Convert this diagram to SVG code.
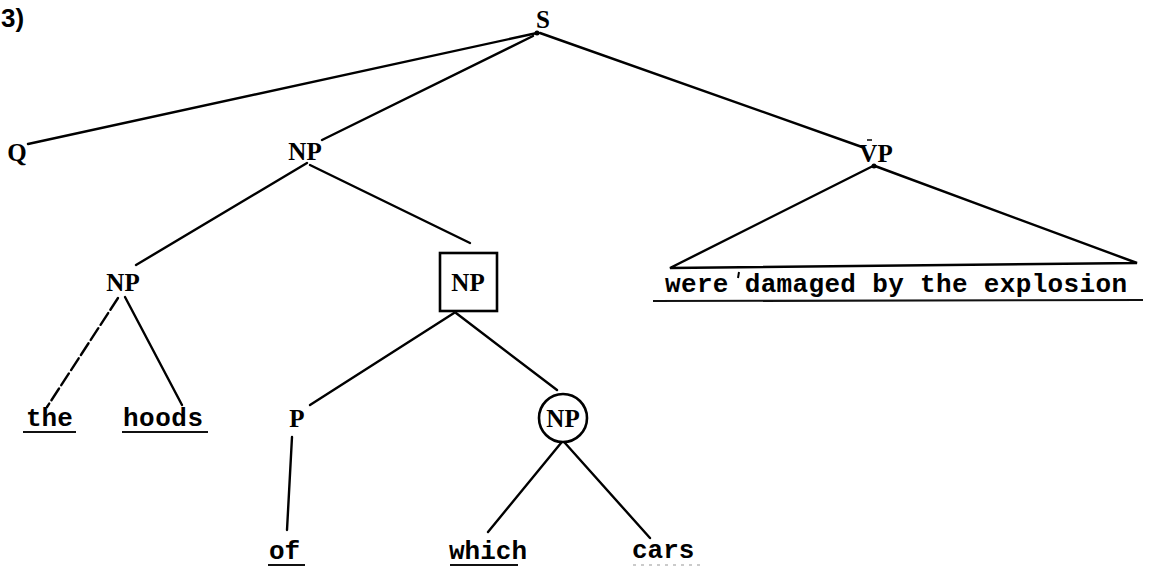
<svg xmlns="http://www.w3.org/2000/svg" width="1158" height="566" viewBox="0 0 1158 566">
<style>
.lab{font-family:"Liberation Serif",serif;font-size:25px;font-weight:bold;fill:#000;text-anchor:middle}
.word{font-family:"Liberation Mono",monospace;font-size:26px;font-weight:bold;fill:#000}
.num{font-family:"Liberation Sans",sans-serif;font-size:26px;font-weight:bold;fill:#000}
.edge{stroke:#000;stroke-width:2.4;stroke-linecap:round;fill:none}
.ul{stroke:#111;stroke-width:2.2;fill:none}
.dash{stroke-dasharray:14 4}
</style>
<rect width="1158" height="566" fill="#fff"/>
<text class="num" x="1" y="27">3)</text>
<g id="connectors">
<line class="edge" x1="537" y1="33" x2="28" y2="144"/>
<line class="edge" x1="533" y1="36" x2="322" y2="140"/>
<line class="edge" x1="540" y1="33" x2="862" y2="147"/>
<line class="edge" x1="307" y1="163" x2="136" y2="265"/>
<line class="edge" x1="310" y1="165" x2="470" y2="243"/>
<line class="edge dash" x1="118" y1="298" x2="47" y2="407"/>
<line class="edge" x1="125" y1="297" x2="182" y2="405"/>
<line class="edge" x1="454" y1="313" x2="310" y2="405"/>
<line class="edge" x1="456" y1="313" x2="557" y2="390"/>
<line class="edge" x1="292" y1="437" x2="287" y2="530"/>
<line class="edge" x1="561" y1="443" x2="488" y2="532"/>
<line class="edge" x1="565" y1="443" x2="650" y2="538"/>
<polyline class="edge" points="873,166 670,268 1137,263 875,166"/>
<circle cx="537" cy="33" r="2.5" fill="#000"/>
<circle cx="874" cy="166" r="2.5" fill="#000"/>
</g>
<g id="S"><text class="lab" x="543" y="28">S</text></g>
<g id="Q"><text class="lab" x="17" y="161">Q</text></g>
<g id="NP1"><text class="lab" x="305" y="160">NP</text></g>
<g id="VP">
<text class="lab" x="876" y="162">VP</text>
<line x1="867" y1="140" x2="872" y2="140" stroke="#000" stroke-width="1.5"/>
</g>
<g id="VPtext">
<text class="word" x="665" y="292" textLength="462" lengthAdjust="spacing">were damaged by the explosion</text>
<line x1="739" y1="272" x2="738" y2="278" stroke="#000" stroke-width="2"/>
<line class="ul" x1="653" y1="301" x2="1143" y2="300"/>
</g>
<g id="NP2"><text class="lab" x="123" y="291">NP</text></g>
<g id="the"><text class="word" x="26" y="426">the</text><line class="ul" x1="23" y1="432" x2="76" y2="432"/></g>
<g id="hoods"><text class="word" x="123" y="426" textLength="80">hoods</text><line class="ul" x1="122" y1="432" x2="208" y2="432"/></g>
<g id="NPbox">
<rect x="440" y="253" width="57" height="58" fill="none" stroke="#000" stroke-width="2.6"/>
<text class="lab" x="468" y="291">NP</text>
</g>
<g id="P"><text class="lab" x="297" y="427">P</text></g>
<g id="NPcircle">
<circle cx="563" cy="418" r="24" fill="none" stroke="#000" stroke-width="2.6"/>
<text class="lab" x="563" y="427" font-size="22">NP</text>
</g>
<g id="of"><text class="word" x="269" y="559">of</text><line class="ul" x1="268" y1="565" x2="305" y2="565"/></g>
<g id="which"><text class="word" x="449" y="559">which</text><line class="ul" x1="450" y1="565" x2="518" y2="565"/></g>
<g id="cars"><text class="word" x="632" y="558">cars</text><line x1="633" y1="565" x2="700" y2="565" stroke="#bbb" stroke-width="1.5" stroke-dasharray="3 5"/></g>
</svg>
